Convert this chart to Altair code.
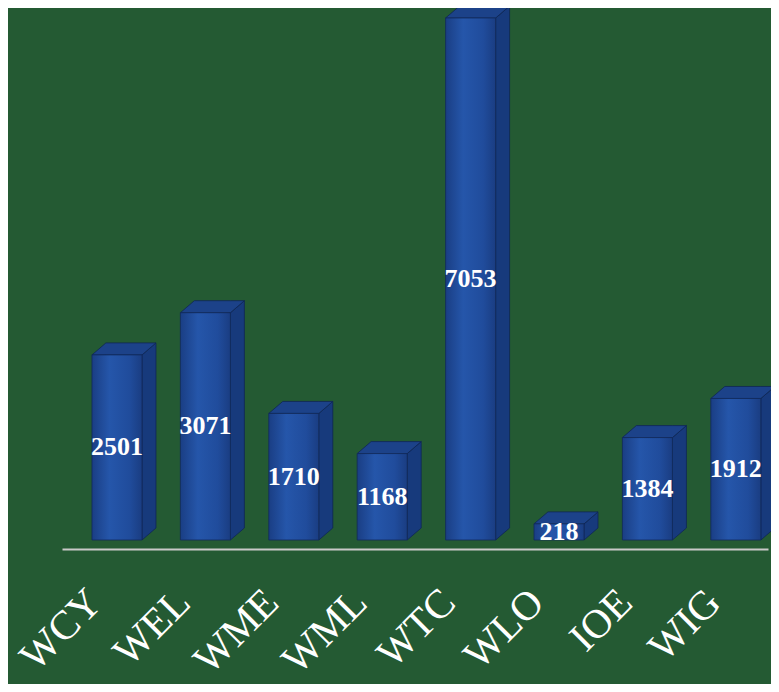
import altair as alt
import pandas as pd

categories = ["WCY", "WEL", "WME", "WML", "WTC", "WLO", "IOE", "WIG"]
values = [2501, 3071, 1710, 1168, 7053, 218, 1384, 1912]

# geometry (in scale units)
HALF = 0.283   # half width of front face (x index units)
DX = 0.158     # depth offset in x
DY = 162       # depth offset in y (value units)

front_rows, side_rows, top_rows, lab_rows = [], [], [], []
for i, (c, v) in enumerate(zip(categories, values)):
    x0, x1 = i - HALF, i + HALF
    front_rows.append(dict(cat=c, x0=x0, x1=x1, y0=0, y1=v))
    side_rows += [dict(cat=c, x=x1, lo=0, hi=v), dict(cat=c, x=x1 + DX, lo=DY, hi=v + DY)]
    top_rows += [dict(cat=c, x=x0, lo=v, hi=v), dict(cat=c, x=x0 + DX, lo=v, hi=v + DY),
                 dict(cat=c, x=x1, lo=v, hi=v + DY), dict(cat=c, x=x1 + DX, lo=v + DY, hi=v + DY)]
    lab_rows.append(dict(cat=c, i=i, v=v, mid=v / 2))

front = pd.DataFrame(front_rows)
side = pd.DataFrame(side_rows)
top = pd.DataFrame(top_rows)
labs = pd.DataFrame(lab_rows)

xs = alt.Scale(domain=[-0.622, 7.364], nice=False, zero=False)
ys = alt.Scale(domain=[0, 7188], nice=False)

label_expr = "[" + ",".join("'%s'" % c for c in categories) + "][datum.value]"
xaxis = alt.Axis(values=list(range(len(categories))), labelExpr=label_expr, title=None,
                 domain=True, domainColor="#c9c9c9", domainWidth=2, ticks=False, grid=False,
                 offset=9, labelFont="Liberation Serif", labelFontWeight="normal", labelFontSize=41,
                 labelColor="white", labelAngle=-45, labelAlign="right", labelBaseline="middle",
                 labelPadding=47, labelOffset=-22, labelOverlap=False, labelBound=False, labelFlush=False)

side_layer = alt.Chart(side).mark_area(color="#173a7c", stroke="#0f2656", strokeWidth=0.8).encode(
    x=alt.X("x:Q", scale=xs, axis=xaxis),
    y=alt.Y("lo:Q", scale=ys, axis=None),
    y2="hi:Q",
    detail="cat:N",
)
top_layer = alt.Chart(top).mark_area(color="#1c4289", stroke="#0f2656", strokeWidth=0.8).encode(
    x=alt.X("x:Q", scale=xs, axis=xaxis),
    y=alt.Y("lo:Q", scale=ys, axis=None),
    y2="hi:Q",
    detail="cat:N",
)
grad = alt.Gradient(gradient="linear", x1=0, x2=1, y1=0, y2=0, stops=[
    alt.GradientStop(color="#1a3e84", offset=0),
    alt.GradientStop(color="#2556aa", offset=0.35),
    alt.GradientStop(color="#204c9c", offset=0.75),
    alt.GradientStop(color="#1a3d82", offset=1),
])
front_layer = alt.Chart(front).mark_rect(fill=grad, stroke="#12295c", strokeWidth=0.8).encode(
    x=alt.X("x0:Q", scale=xs, axis=xaxis),
    x2="x1:Q",
    y=alt.Y("y0:Q", scale=ys, axis=None),
    y2="y1:Q",
)
text_layer = alt.Chart(labs).mark_text(font="Liberation Serif", fontWeight="bold", fontSize=26,
                                       color="white", baseline="middle", align="center").encode(
    x=alt.X("i:Q", scale=xs, axis=xaxis),
    y=alt.Y("mid:Q", scale=ys, axis=None),
    text="v:Q",
)

chart = alt.layer(side_layer, top_layer, front_layer, text_layer).properties(
    width=706, height=532,
    background="#245a33",
    autosize=alt.AutoSizeParams(type="none"),
    padding={"left": 54, "top": 0, "right": 3, "bottom": 144},
).configure_view(stroke=None)

chart.save("out.html", embed_options={"renderer": "svg", "actions": False})
